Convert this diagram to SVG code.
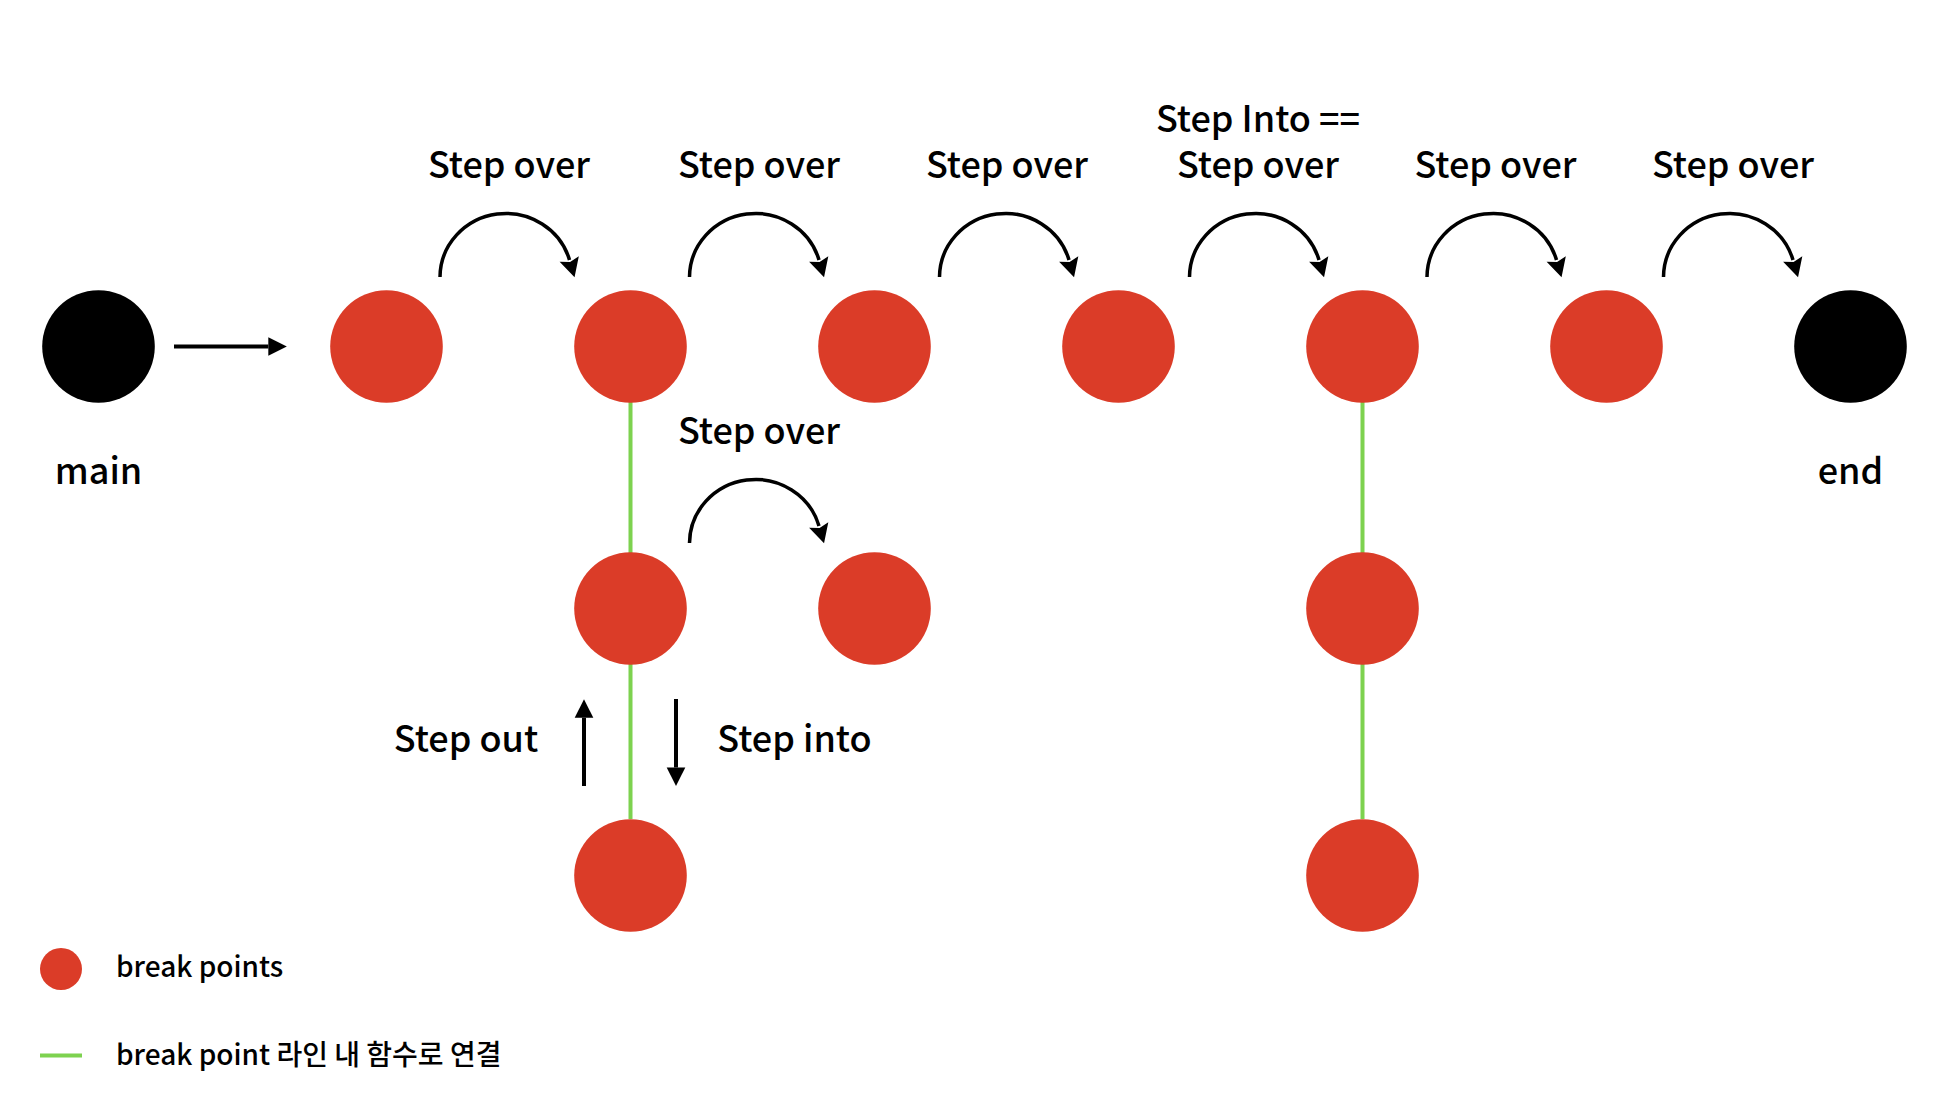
<svg xmlns="http://www.w3.org/2000/svg" width="1936" height="1120" viewBox="0 0 1936 1120">
<style>
  .bp { fill: #db3c28; }
  .term { fill: #000000; }
  .lbl { font-family: "Noto Sans CJK KR", "Noto Sans", sans-serif; font-size: 36px; font-weight: 500; fill: #000; text-anchor: middle; }
  .leg { font-family: "Noto Sans CJK KR", "Noto Sans", sans-serif; font-size: 28px; font-weight: 500; fill: #000; }
  .curve { fill: none; stroke: #000; stroke-width: 3.5; marker-end: url(#classic); }
  .straight { fill: none; stroke: #000; stroke-width: 4; marker-end: url(#block); }
  .fn { stroke: #7dd24f; stroke-width: 4; fill: none; }
</style>
<defs>
  <marker id="classic" markerUnits="userSpaceOnUse" viewBox="-2 -11 24 22" markerWidth="24" markerHeight="22" refX="1" refY="0" orient="auto" overflow="visible">
    <path d="M0,-10 L19,0 L0,10 L3,0 Z" fill="#000"/>
  </marker>
  <marker id="block" markerUnits="userSpaceOnUse" viewBox="-2 -10 22 20" markerWidth="22" markerHeight="20" refX="0" refY="0" orient="auto" overflow="visible">
    <path d="M0,-9.3 L18.5,0 L0,9.3 Z" fill="#000"/>
  </marker>
</defs>
<rect width="1936" height="1120" fill="#ffffff"/>

<g id="connectors">
  <line class="fn" x1="630.5" y1="402" x2="630.5" y2="553"/>
  <line class="fn" x1="630.5" y1="664" x2="630.5" y2="819"/>
  <line class="fn" x1="1362.5" y1="402" x2="1362.5" y2="553"/>
  <line class="fn" x1="1362.5" y1="664" x2="1362.5" y2="819"/>
  <path class="straight" d="M174,346.5 L268.3,346.5"/>
  <path class="straight" d="M584,786 L584,717.8"/>
  <path class="straight" d="M676,699 L676,767.5"/>
  <path class="curve" d="M440,277 A66,64 0 0 1 569.5,260"/>
  <path class="curve" d="M689.5,277 A66,64 0 0 1 819,260"/>
  <path class="curve" d="M939.5,277 A66,64 0 0 1 1069,260"/>
  <path class="curve" d="M1189.5,277 A66,64 0 0 1 1319,260"/>
  <path class="curve" d="M1427,277 A66,64 0 0 1 1556.5,260"/>
  <path class="curve" d="M1663.5,277 A66,64 0 0 1 1793,260"/>
  <path class="curve" d="M689.5,543 A66,64 0 0 1 819,526"/>
</g>

<g id="node-main"><circle class="term" cx="98.5" cy="346.5" r="56.3"/><text class="lbl" x="98.5" y="483.5">main</text></g>
<g id="node-bp1"><circle class="bp" cx="386.5" cy="346.5" r="56.3"/></g>
<g id="node-bp2"><circle class="bp" cx="630.5" cy="346.5" r="56.3"/></g>
<g id="node-bp3"><circle class="bp" cx="874.5" cy="346.5" r="56.3"/></g>
<g id="node-bp4"><circle class="bp" cx="1118.5" cy="346.5" r="56.3"/></g>
<g id="node-bp5"><circle class="bp" cx="1362.5" cy="346.5" r="56.3"/></g>
<g id="node-bp6"><circle class="bp" cx="1606.5" cy="346.5" r="56.3"/></g>
<g id="node-end"><circle class="term" cx="1850.5" cy="346.5" r="56.3"/><text class="lbl" x="1850.5" y="483.5">end</text></g>
<g id="node-bp2a"><circle class="bp" cx="630.5" cy="608.5" r="56.3"/></g>
<g id="node-bp2b"><circle class="bp" cx="874.5" cy="608.5" r="56.3"/></g>
<g id="node-bp2c"><circle class="bp" cx="630.5" cy="875.5" r="56.3"/></g>
<g id="node-bp5a"><circle class="bp" cx="1362.5" cy="608.5" r="56.3"/></g>
<g id="node-bp5b"><circle class="bp" cx="1362.5" cy="875.5" r="56.3"/></g>

<g id="labels">
  <text class="lbl" x="509" y="178.3">Step over</text>
  <text class="lbl" x="759" y="178.3">Step over</text>
  <text class="lbl" x="1007" y="178.3">Step over</text>
  <text class="lbl" x="1258" y="132.3">Step Into ==</text>
  <text class="lbl" x="1258" y="178.3">Step over</text>
  <text class="lbl" x="1495.5" y="178.3">Step over</text>
  <text class="lbl" x="1733" y="178.3">Step over</text>
  <text class="lbl" x="759" y="444">Step over</text>
  <text class="lbl" x="466" y="751.7">Step out</text>
  <text class="lbl" x="794.5" y="751.7">Step into</text>
</g>

<g id="legend">
  <circle class="bp" cx="61" cy="969" r="21"/>
  <text class="leg" x="116" y="977">break points</text>
  <line class="fn" x1="40" y1="1055.5" x2="82" y2="1055.5"/>
  <text class="leg" x="116" y="1065">break point 라인 내 함수로 연결</text>
</g>
</svg>
